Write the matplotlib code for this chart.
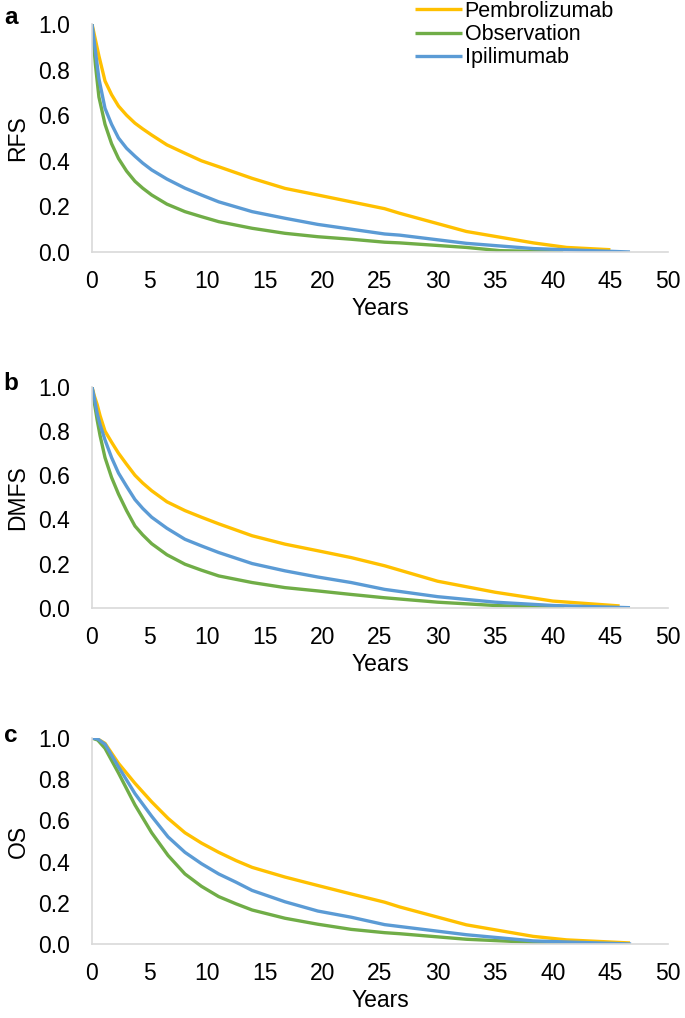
import numpy as np
import matplotlib
matplotlib.use('Agg')
import matplotlib.pyplot as plt

plt.rcParams['font.family'] = ['Liberation Sans', 'DejaVu Sans']

labels = ['Pembrolizumab', 'Observation', 'Ipilimumab']
colors = ['#FFC000', '#70AD47', '#5B9BD5']

# panel a: RFS
rfs_pem_t = [0, 0.15, 0.3, 0.6, 1.13, 1.7, 2.3, 3.0, 3.73, 4.4, 5.18, 6.5, 8.07, 9.5, 11.0, 13.9, 16.75, 19.6, 22.5, 25.4, 26.7, 32.5, 38.3, 41.2, 45.0]
rfs_pem_y = [1.0, 0.965, 0.93, 0.86, 0.75, 0.69, 0.64, 0.60, 0.565, 0.54, 0.513, 0.47, 0.433, 0.40, 0.374, 0.323, 0.279, 0.25, 0.22, 0.19, 0.17, 0.09, 0.04, 0.02, 0.01]
rfs_obs_t = [0, 0.15, 0.3, 0.6, 1.13, 1.7, 2.3, 3.0, 3.73, 4.4, 5.18, 6.5, 8.07, 9.5, 11.0, 13.9, 16.75, 19.6, 22.5, 25.4, 26.7, 32.5, 35.4, 40.9]
rfs_obs_y = [1.0, 0.91, 0.82, 0.68, 0.56, 0.475, 0.41, 0.355, 0.31, 0.28, 0.25, 0.21, 0.177, 0.155, 0.133, 0.104, 0.082, 0.067, 0.056, 0.043, 0.04, 0.02, 0.006, 0.0]
rfs_ipi_t = [0, 0.15, 0.3, 0.6, 1.13, 1.7, 2.3, 3.0, 3.73, 4.4, 5.18, 6.5, 8.07, 9.5, 11.0, 13.9, 16.75, 19.6, 22.5, 25.4, 26.7, 32.5, 38.3, 46.7]
rfs_ipi_y = [1.0, 0.94, 0.88, 0.76, 0.63, 0.56, 0.50, 0.455, 0.42, 0.39, 0.36, 0.32, 0.28, 0.25, 0.22, 0.177, 0.148, 0.121, 0.10, 0.079, 0.074, 0.038, 0.015, 0.0]

# panel b: DMFS
dmfs_pem_t = [0, 0.2, 0.45, 0.7, 1.13, 1.7, 2.3, 3.0, 3.73, 4.4, 5.18, 6.5, 8.07, 9.5, 11.0, 13.9, 16.75, 19.6, 22.5, 25.4, 30, 35, 40, 45.8]
dmfs_pem_y = [1.0, 0.96, 0.92, 0.87, 0.80, 0.75, 0.70, 0.65, 0.60, 0.565, 0.53, 0.48, 0.44, 0.41, 0.38, 0.326, 0.288, 0.258, 0.227, 0.19, 0.12, 0.07, 0.03, 0.008]
dmfs_obs_t = [0, 0.2, 0.45, 0.7, 1.13, 1.7, 2.3, 3.0, 3.73, 4.4, 5.18, 6.5, 8.07, 9.5, 11.0, 13.9, 16.75, 19.6, 22.5, 25.4, 30, 35, 41]
dmfs_obs_y = [1.0, 0.93, 0.85, 0.78, 0.68, 0.59, 0.515, 0.44, 0.37, 0.33, 0.29, 0.24, 0.197, 0.17, 0.144, 0.114, 0.091, 0.076, 0.06, 0.045, 0.025, 0.01, 0.0]
dmfs_ipi_t = [0, 0.2, 0.45, 0.7, 1.13, 1.7, 2.3, 3.0, 3.73, 4.4, 5.18, 6.5, 8.07, 9.5, 11.0, 13.9, 16.75, 19.6, 22.5, 25.4, 30, 35, 40, 46.7]
dmfs_ipi_y = [1.0, 0.95, 0.88, 0.83, 0.76, 0.68, 0.61, 0.55, 0.49, 0.45, 0.41, 0.36, 0.31, 0.28, 0.25, 0.20, 0.167, 0.139, 0.114, 0.083, 0.05, 0.025, 0.01, 0.0]

# panel c: OS
os_pem_t = [0, 0.5, 1.13, 2.3, 3.73, 5.18, 6.6, 8.07, 9.5, 11.0, 12.5, 13.9, 16.75, 19.6, 22.5, 25.4, 26.7, 32.5, 38.3, 41.2, 46.7]
os_pem_y = [1.0, 0.995, 0.974, 0.877, 0.78, 0.69, 0.61, 0.54, 0.49, 0.445, 0.405, 0.372, 0.325, 0.284, 0.243, 0.203, 0.18, 0.093, 0.037, 0.02, 0.005]
os_obs_t = [0, 0.5, 1.13, 2.3, 3.73, 5.18, 6.6, 8.07, 9.5, 11.0, 12.5, 13.9, 16.75, 19.6, 22.5, 25.4, 26.7, 32.5, 38.3, 44.0]
os_obs_y = [1.0, 0.99, 0.95, 0.83, 0.675, 0.54, 0.43, 0.34, 0.28, 0.23, 0.195, 0.165, 0.125, 0.096, 0.071, 0.055, 0.05, 0.023, 0.008, 0.0]
os_ipi_t = [0, 0.5, 1.13, 2.3, 3.73, 5.18, 6.6, 8.07, 9.5, 11.0, 12.5, 13.9, 16.75, 19.6, 22.5, 25.4, 26.7, 32.5, 38.3, 46.8]
os_ipi_y = [1.0, 0.995, 0.97, 0.86, 0.73, 0.62, 0.52, 0.445, 0.39, 0.34, 0.30, 0.26, 0.205, 0.16, 0.13, 0.094, 0.085, 0.045, 0.015, 0.0]

panels = [
    ('a', 'RFS', [(rfs_pem_t, rfs_pem_y), (rfs_obs_t, rfs_obs_y), (rfs_ipi_t, rfs_ipi_y)]),
    ('b', 'DMFS', [(dmfs_pem_t, dmfs_pem_y), (dmfs_obs_t, dmfs_obs_y), (dmfs_ipi_t, dmfs_ipi_y)]),
    ('c', 'OS', [(os_pem_t, os_pem_y), (os_obs_t, os_obs_y), (os_ipi_t, os_ipi_y)]),
]

W, H = 685, 1018
fig = plt.figure(figsize=(6.85, 10.18), dpi=100)

# (top px, bottom px, letter y px)
boxes = [(24, 252, 17), (387, 607.7, 383), (738, 944, 735)]
left, right = 92, 668

fs = 16.5
for (letter, ylab, series), (top, bot, ly) in zip(panels, boxes):
    ax = fig.add_axes([left / W, 1 - bot / H, (right - left) / W, (bot - top) / H])
    for (t, y), c, lab in zip(series, colors, labels):
        ax.plot(t, y, color=c, lw=2.4, label=lab, solid_capstyle='butt')
    ax.set_xlim(0, 50)
    ax.set_ylim(0, 1.0)
    ax.set_xticks(np.arange(0, 51, 5))
    ax.set_yticks(np.arange(0, 1.01, 0.2))
    ax.set_yticklabels(['%.1f' % v for v in np.arange(0, 1.01, 0.2)])
    ax.tick_params(length=0, labelsize=fs)
    ax.tick_params(axis='y', pad=16)
    ax.tick_params(axis='x', pad=13)
    for s in ['top', 'right']:
        ax.spines[s].set_visible(False)
    for s in ['left', 'bottom']:
        ax.spines[s].set_color('#D9D9D9')
        ax.spines[s].set_linewidth(1.2)
    ax.set_xlabel('Years', fontsize=fs, labelpad=3)
    ax.set_ylabel(ylab, fontsize=fs, labelpad=6)
    ax.patch.set_visible(False)
    fig.text(11 / W, 1 - ly / H, letter, fontsize=fs + 1, fontweight='bold', ha='center', va='center')
    if letter == 'a':
        ax.legend(loc='upper left', bbox_to_anchor=(415 / W, 1 - 1 / H), bbox_transform=fig.transFigure,
                  frameon=False, fontsize=15.5, handlelength=2.2, handletextpad=0.1,
                  labelspacing=0.1, borderpad=0, borderaxespad=0)

plt.savefig('out.png', dpi=100)
